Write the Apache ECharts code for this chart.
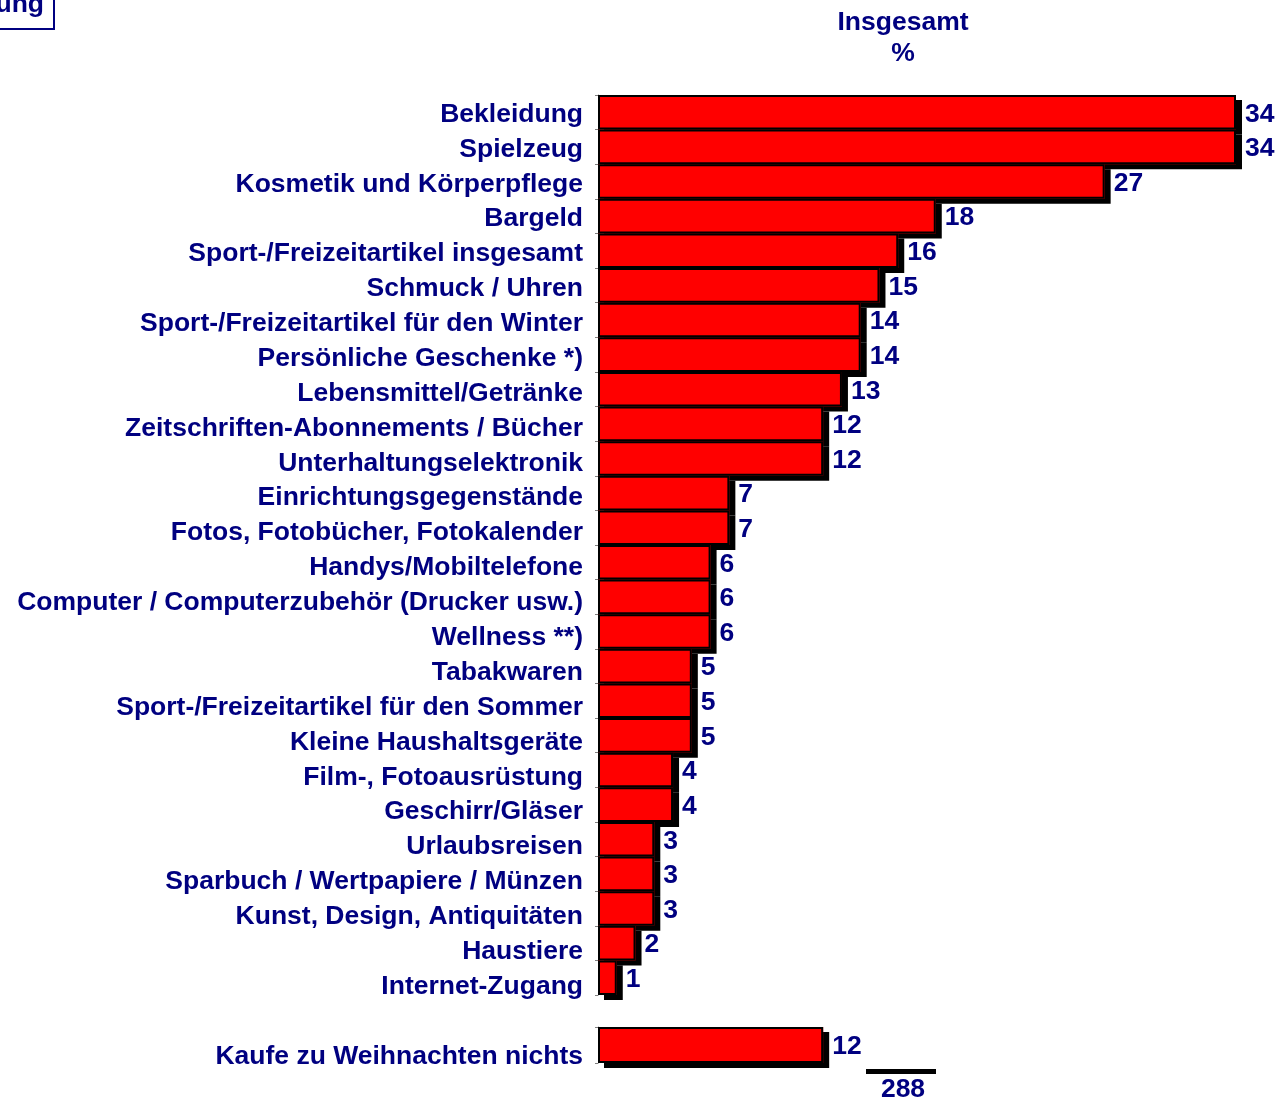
<!DOCTYPE html>
<html>
<head>
<meta charset="utf-8">
<script src="https://cdn.jsdelivr.net/npm/echarts@6/dist/echarts.min.js"></script>
<style>
  html, body { margin: 0; padding: 0; background: #fff; }
  #main { width: 1279px; height: 1102px; }
</style>
</head>
<body>
<div id="main"></div>
<script>
// Kategorien (sortiert nach Anteil)
const categories = [
  "Bekleidung",
  "Spielzeug",
  "Kosmetik und Körperpflege",
  "Bargeld",
  "Sport-/Freizeitartikel insgesamt",
  "Schmuck / Uhren",
  "Sport-/Freizeitartikel für den Winter",
  "Persönliche Geschenke *)",
  "Lebensmittel/Getränke",
  "Zeitschriften-Abonnements / Bücher",
  "Unterhaltungselektronik",
  "Einrichtungsgegenstände",
  "Fotos, Fotobücher, Fotokalender",
  "Handys/Mobiltelefone",
  "Computer / Computerzubehör (Drucker usw.)",
  "Wellness **)",
  "Tabakwaren",
  "Sport-/Freizeitartikel für den Sommer",
  "Kleine Haushaltsgeräte",
  "Film-, Fotoausrüstung",
  "Geschirr/Gläser",
  "Urlaubsreisen",
  "Sparbuch / Wertpapiere / Münzen",
  "Kunst, Design, Antiquitäten",
  "Haustiere",
  "Internet-Zugang"
];
const values = [34, 34, 27, 18, 16, 15, 14, 14, 13, 12, 12, 7, 7, 6, 6, 6, 5, 5, 5, 4, 4, 3, 3, 3, 2, 1];

const nothingCategory = ["Kaufe zu Weihnachten nichts"];
const nothingValues = [12];

const headerLines = ["Insgesamt", "%"];
const cornerText = "ung";

const navy = "#000080";
const fontFamily = "Liberation Sans, Arial, sans-serif";
const fontSize = 26.5;
const total = values.concat(nothingValues).reduce((a, b) => a + b, 0);

const main = document.getElementById("main");
const myChart = echarts.init(main);

// rote Fläche mit hartem Schatten, Rahmen kommt als eigene Serie darüber
const fillStyle = {
  color: "#ff0000",
  borderWidth: 0,
  shadowColor: "#000",
  shadowBlur: 0,
  shadowOffsetX: 6,
  shadowOffsetY: 5
};
const frameStyle = {
  color: "transparent",
  borderColor: "#000",
  borderWidth: 2
};
const labelStyle = {
  show: true,
  position: "right",
  distance: 9,
  offset: [0, 2],
  color: navy,
  fontFamily: fontFamily,
  fontWeight: "bold",
  fontSize: fontSize
};
const catLabel = {
  interval: 0,
  color: navy,
  fontFamily: fontFamily,
  fontWeight: "bold",
  fontSize: fontSize,
  margin: 15
};
const catLine = { show: true, lineStyle: { color: "#808080", width: 1 } };
const catTick = { show: true, interval: 0, length: 3, lineStyle: { color: "#808080" } };

function barPair(axisIdx, data) {
  return [
    {
      type: "bar",
      xAxisIndex: axisIdx,
      yAxisIndex: axisIdx,
      data: data,
      barCategoryGap: 0,
      barGap: "-100%",
      itemStyle: fillStyle,
      silent: true
    },
    {
      type: "bar",
      xAxisIndex: axisIdx,
      yAxisIndex: axisIdx,
      data: data,
      barCategoryGap: 0,
      barGap: "-100%",
      itemStyle: frameStyle,
      label: labelStyle
    }
  ];
}

const option = {
  backgroundColor: "#fff",
  animation: false,
  grid: [
    { left: 598, top: 95, width: 638, height: 900 },
    { left: 598, top: 1027, width: 638, height: 36 },
    // Beschriftungen stehen im Original etwas weiter auseinander als die Balken
    { left: 598, top: 97, width: 638, height: 907 }
  ],
  xAxis: [
    { gridIndex: 0, type: "value", min: 0, max: 34, show: false },
    { gridIndex: 1, type: "value", min: 0, max: 34, show: false },
    { gridIndex: 2, type: "value", min: 0, max: 34, show: false }
  ],
  yAxis: [
    {
      gridIndex: 0,
      type: "category",
      inverse: true,
      data: categories,
      axisLine: catLine,
      axisTick: catTick,
      axisLabel: { show: false }
    },
    {
      gridIndex: 1,
      type: "category",
      inverse: true,
      data: nothingCategory,
      axisLine: catLine,
      axisTick: catTick,
      axisLabel: Object.assign({}, catLabel, { verticalAlign: "top", lineHeight: 24 })
    },
    {
      gridIndex: 2,
      type: "category",
      inverse: true,
      data: categories,
      axisLine: { show: false },
      axisTick: { show: false },
      axisLabel: catLabel
    }
  ],
  series: barPair(0, values).concat(barPair(1, nothingValues)),
  graphic: [
    {
      type: "text",
      x: 903,
      y: 38.5,
      style: {
        text: headerLines.join("\n"),
        align: "center",
        verticalAlign: "middle",
        lineHeight: 31,
        fill: navy,
        font: "bold " + fontSize + "px " + fontFamily
      }
    },
    {
      type: "rect",
      shape: { x: -4, y: -4, width: 58, height: 33 },
      style: { fill: "#fff", stroke: navy, lineWidth: 2 }
    },
    {
      type: "text",
      x: 44,
      y: 5,
      style: {
        text: cornerText,
        align: "right",
        verticalAlign: "middle",
        fill: navy,
        font: "bold " + fontSize + "px " + fontFamily
      }
    },
    {
      type: "rect",
      shape: { x: 866, y: 1069, width: 70, height: 5 },
      style: { fill: "#000" }
    },
    {
      type: "text",
      x: 903,
      y: 1090,
      style: {
        text: String(total),
        align: "center",
        verticalAlign: "middle",
        fill: navy,
        font: "bold " + fontSize + "px " + fontFamily
      }
    }
  ]
};

option && myChart.setOption(option);
</script>
</body>
</html>
